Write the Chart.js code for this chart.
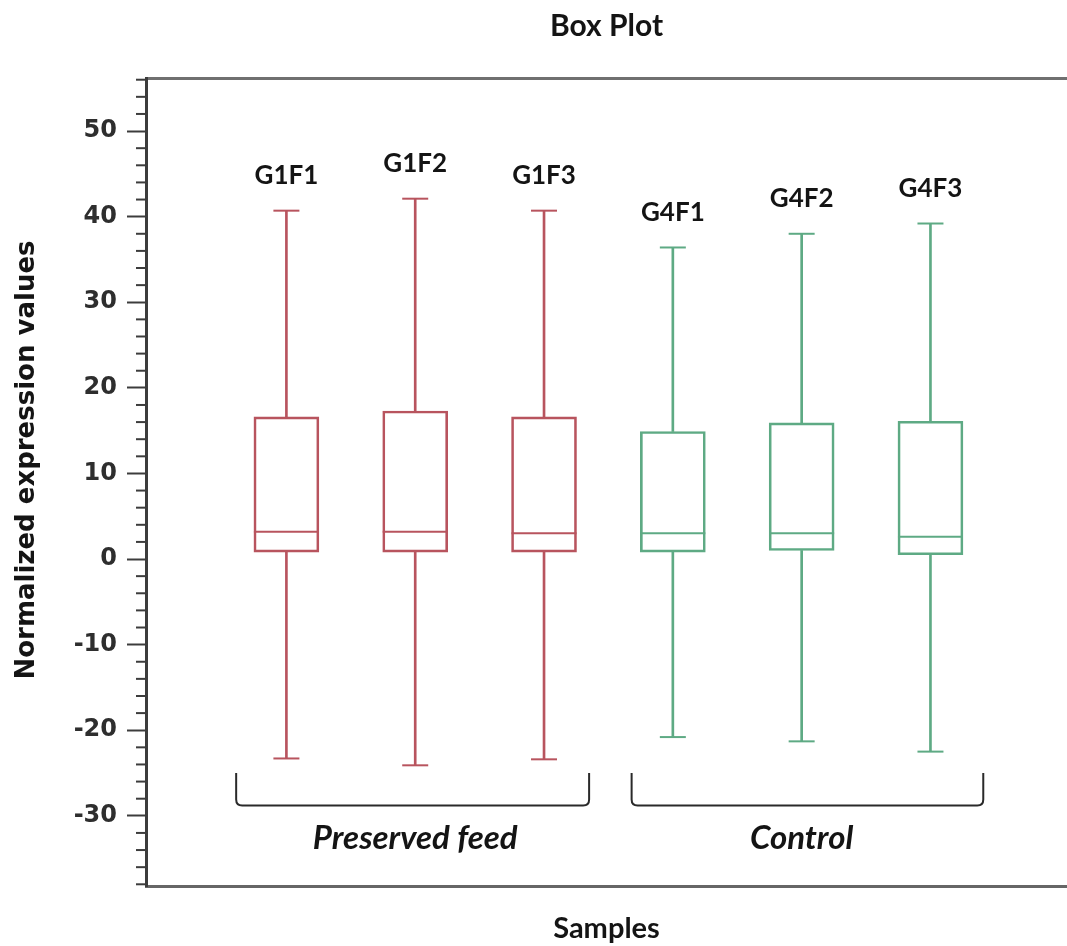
<!DOCTYPE html>
<html>
<head>
<meta charset="utf-8">
<title>Box Plot</title>
<script src="https://cdn.jsdelivr.net/npm/chart.js@4.4.1/dist/chart.umd.min.js"></script>
<style>
  html, body { margin: 0; padding: 0; background: #fff; overflow: hidden; }
  #wrap { width: 1067px; height: 946px; position: relative; }
  canvas { display: block; }
</style>
</head>
<body>
<div id="wrap"><canvas id="grafico"></canvas></div>
<script>
/* box plot — normalized expression values per sample */

const COR_PRESERVED = "rgb(184,84,94)";
const COR_CONTROL   = "rgb(94,170,132)";
const COR_TEXTO     = "#141414";
const COR_EIXO      = "#3c3c3c";

// values
const samples     = ["G1F1", "G1F2", "G1F3", "G4F1", "G4F2", "G4F3"];
const positions   = [1, 2, 3, 4, 5, 6];
const whiskerLow  = [-23.3, -24.1, -23.4, -20.8, -21.3, -22.5];
const q1          = [0.8, 0.8, 0.8, 0.8, 1.0, 0.5];
const medians     = [3.2, 3.2, 3.0, 3.0, 3.0, 2.6];
const q3          = [16.6, 17.3, 16.6, 14.9, 15.9, 16.1];
const whiskerHigh = [40.7, 42.1, 40.7, 36.4, 38.0, 39.2];
const sampleGroup = [0, 0, 0, 1, 1, 1];

const groups      = ["Preserved feed", "Control"];
const groupStart  = [0.61, 3.68];
const groupEnd    = [3.35, 6.41];
const groupCenter = [2, 5];

const yTicksMajor = 10;
const yTicksMinor = 2;

const X_MIN = -0.09, X_MAX = 7.06;
const Y_MIN = -38.2, Y_MAX = 56.2;

const cores = sampleGroup.map(g => g === 0 ? COR_PRESERVED : COR_CONTROL);

function pontos(valores) {
  return positions.map((x, i) => ({ x, y: valores[i] }));
}

function faixas(de, ate) {
  return positions.map((x, i) => ({ x, y: [de[i], ate[i]] }));
}

// minor ticks, sample names, group brackets and y title
const extras = {
  id: "extras",
  afterDraw(chart) {
    const { ctx, scales: { x, y } } = chart;
    ctx.save();

    ctx.strokeStyle = COR_EIXO;
    ctx.lineWidth = 2;
    y.ticks.forEach(t => {
      if (Math.round(t.value) % yTicksMajor === 0) return;
      const py = y.getPixelForValue(t.value);
      ctx.beginPath();
      ctx.moveTo(y.right, py);
      ctx.lineTo(y.right - 10, py);
      ctx.stroke();
    });

    ctx.fillStyle = COR_TEXTO;
    ctx.textAlign = "center";
    ctx.textBaseline = "middle";
    ctx.font = "bold 26px Lato";
    samples.forEach((s, i) => {
      ctx.fillText(s, x.getPixelForValue(positions[i]), y.getPixelForValue(whiskerHigh[i]) - 35);
    });

    // brackets under each group
    const yTop = y.getPixelForValue(-25.0);
    const yBot = y.getPixelForValue(-28.8);
    const r = 6;
    ctx.strokeStyle = "#2a2a2a";
    ctx.lineWidth = 2;
    groups.forEach((g, i) => {
      const xl = x.getPixelForValue(groupStart[i]);
      const xr = x.getPixelForValue(groupEnd[i]);
      ctx.beginPath();
      ctx.moveTo(xl, yTop);
      ctx.lineTo(xl, yBot - r);
      ctx.quadraticCurveTo(xl, yBot, xl + r, yBot);
      ctx.lineTo(xr - r, yBot);
      ctx.quadraticCurveTo(xr, yBot, xr, yBot - r);
      ctx.lineTo(xr, yTop);
      ctx.stroke();
    });

    ctx.font = "italic bold 33px Lato";
    groups.forEach((g, i) => {
      ctx.fillText(g, x.getPixelForValue(groupCenter[i]), y.getPixelForValue(-32.6));
    });

    // y axis title
    ctx.translate(27, 460);
    ctx.rotate(-Math.PI / 2);
    ctx.font = "bold 26px 'DejaVu Sans'";
    ctx.fillText("Normalized expression values", 0, 0);

    ctx.restore();
  }
};

const ctx = document.getElementById("grafico").getContext("2d");
new Chart(ctx, {
  type: "bar",
  data: {
    datasets: [
      {
        label: "box",
        data: faixas(q1, q3),
        backgroundColor: "rgba(255,255,255,0)",
        borderColor: cores,
        borderWidth: 2,
        borderSkipped: false,
        barThickness: 65,
        grouped: false,
      },
      {
        label: "upper whisker",
        data: faixas(q3, whiskerHigh),
        backgroundColor: cores,
        borderWidth: 0,
        barThickness: 2,
        grouped: false,
      },
      {
        label: "lower whisker",
        data: faixas(whiskerLow, q1),
        backgroundColor: cores,
        borderWidth: 0,
        barThickness: 2,
        grouped: false,
      },
      {
        type: "scatter",
        label: "median",
        data: pontos(medians),
        pointStyle: "line",
        pointRadius: 32.5,
        borderColor: cores,
        pointBorderColor: cores,
        pointBorderWidth: 2,
      },
      {
        type: "scatter",
        label: "max",
        data: pontos(whiskerHigh),
        pointStyle: "line",
        pointRadius: 13,
        borderColor: cores,
        pointBorderColor: cores,
        pointBorderWidth: 2,
      },
      {
        type: "scatter",
        label: "min",
        data: pontos(whiskerLow),
        pointStyle: "line",
        pointRadius: 13,
        borderColor: cores,
        pointBorderColor: cores,
        pointBorderWidth: 2,
      },
    ]
  },
  options: {
    responsive: true,
    maintainAspectRatio: false,
    animation: false,
    events: [],
    layout: { padding: 0, autoPadding: false },
    plugins: {
      legend: { display: false },
      tooltip: { enabled: false },
    },
    scales: {
      x: {
        type: "linear",
        position: "bottom",
        offset: false,
        min: X_MIN,
        max: X_MAX,
        grid: { display: false, drawTicks: false, offset: false },
        ticks: { display: false },
        border: { color: "#666", width: 3 },
        title: {
          display: true,
          text: "Samples",
          color: COR_TEXTO,
          font: { family: "Lato", size: 29, weight: "bold" },
          padding: { top: 0, bottom: 0 },
        },
        afterFit: s => { s.height = 60; s.paddingLeft = 0; s.paddingRight = 0; },
      },
      xTop: {
        type: "linear",
        position: "top",
        offset: false,
        min: X_MIN,
        max: X_MAX,
        grid: { display: false, drawTicks: false, offset: false },
        ticks: { display: false },
        border: { color: "#707070", width: 3 },
        title: {
          display: true,
          text: "Box Plot",
          color: COR_TEXTO,
          font: { family: "Lato", size: 30, weight: "bold" },
          padding: { top: 8, bottom: 0 },
        },
        afterFit: s => { s.height = 78; s.paddingLeft = 0; s.paddingRight = 0; },
      },
      y: {
        type: "linear",
        position: "left",
        min: Y_MIN,
        max: Y_MAX,
        grid: {
          drawOnChartArea: false,
          tickLength: 19,
          tickWidth: 2,
          tickColor: c => Math.round(c.tick.value) % yTicksMajor === 0 ? COR_EIXO : "rgba(0,0,0,0)",
        },
        border: { color: COR_EIXO, width: 3 },
        ticks: {
          stepSize: yTicksMinor,
          includeBounds: false,
          autoSkip: false,
          padding: 10,
          color: "#2e2e2e",
          font: { family: "DejaVu Sans", size: 24, weight: "bold" },
          callback: v => Math.round(v) % yTicksMajor === 0 ? Math.round(v) : "",
        },
        afterFit: s => { s.width = 146; s.paddingTop = 0; s.paddingBottom = 0; },
      },
    }
  },
  plugins: [extras]
});
</script>
</body>
</html>
